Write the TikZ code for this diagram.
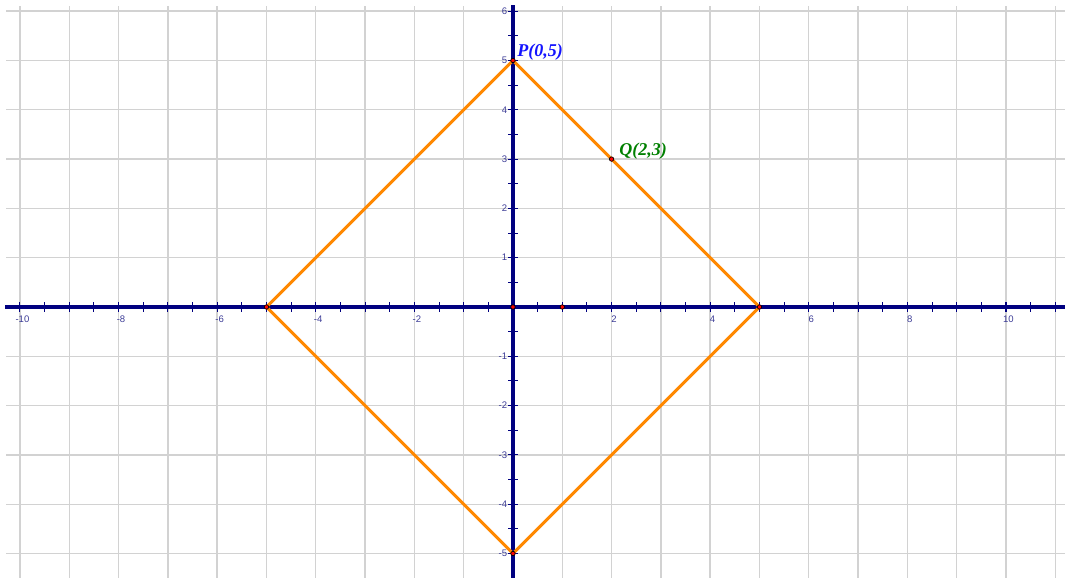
\documentclass[tikz,border=0pt]{standalone}
\usepackage{xcolor}
\usepackage{fontspec}
\usepackage{tikz}
\newfontfamily\ptfont{Liberation Serif}
\newfontfamily\tickfont{Liberation Sans}
\definecolor{axisblue}{RGB}{0,0,128}
\definecolor{ticklabel}{RGB}{60,60,150}
\definecolor{edgeorange}{RGB}{255,136,0}
\definecolor{pblue}{RGB}{20,20,255}
\definecolor{qgreen}{RGB}{0,128,0}

\begin{document}
\begin{tikzpicture}[
		gridline/.style={gray!35, line width=0.8pt},
		axisline/.style={axisblue, line width=1.8pt},
		tickline/.style={axisblue, line width=0.6pt},
		ticknum/.style={text=ticklabel, inner sep=0pt, font=\tickfont\fontsize{5.5}{6}\selectfont},
		ptlabel/.style={anchor=base west, inner sep=0pt, font=\ptfont\bfseries\itshape\fontsize{10.4}{12}\selectfont}
	]
			\useasboundingbox (-10.405,-5.497) rectangle (11.197,6.227);
			
			% grid
			\foreach \x in {-10,...,11}{
				\draw[gridline] (\x,-5.6) -- (\x,6.1);
			}
			\foreach \y in {-5,...,6}{
				\draw[gridline] (-10.28,\y) -- (11.3,\y);
			}
			
			% axes
			\coordinate (xl) at (-10.3,0);
			\coordinate (xr) at (11.3,0);
			\coordinate (yb) at (0,-5.6);
			\coordinate (yt) at (0,6.13);
			\draw[axisline] (xl) -- (xr);
			\draw[axisline] (yb) -- (yt);
			\foreach \x in {-10,-9.5,...,11}{
				\draw[tickline] (\x,-0.1) -- (\x,0.1);
			}
			\foreach \y in {-5.5,-5,...,6}{
				\draw[tickline] (-0.1,\y) -- (0.1,\y);
			}
			\foreach \x in {-10,-8,-6,-4,-2,2,4,6,8,10}{
				\node[ticknum] (xn\x) at (\x+0.05,-0.24) {\x};
			}
			\foreach \y in {-5,-4,-3,-2,-1,1,2,3,4,5,6}{
				\node[ticknum, anchor=east] (yn\y) at (-0.11,\y) {\y};
			}
			
			% square
			\coordinate (O) at (0,0);
			\coordinate (U) at (1,0);
			\coordinate (P) at (0,5);
			\coordinate (R) at (5,0);
			\coordinate (S) at (0,-5);
			\coordinate (L) at (-5,0);
			\coordinate (Q) at (2,3);
			\draw[edgeorange, line width=1.7pt, line join=round] (P) -- (R) -- (S) -- (L) -- cycle;
			
			\foreach \p in {P,Q,R,S,L,O,U}{
				\filldraw[fill=red, draw=black, line width=0.4pt] (\p) circle (0.045);
			}
			\node[ptlabel, text=pblue] (Plabel) at (0.08,5.08) {P(0,5)};
			\node[ptlabel, text=qgreen] (Qlabel) at (2.15,3.08) {Q(2,3)};
		\end{tikzpicture}
\end{document}
